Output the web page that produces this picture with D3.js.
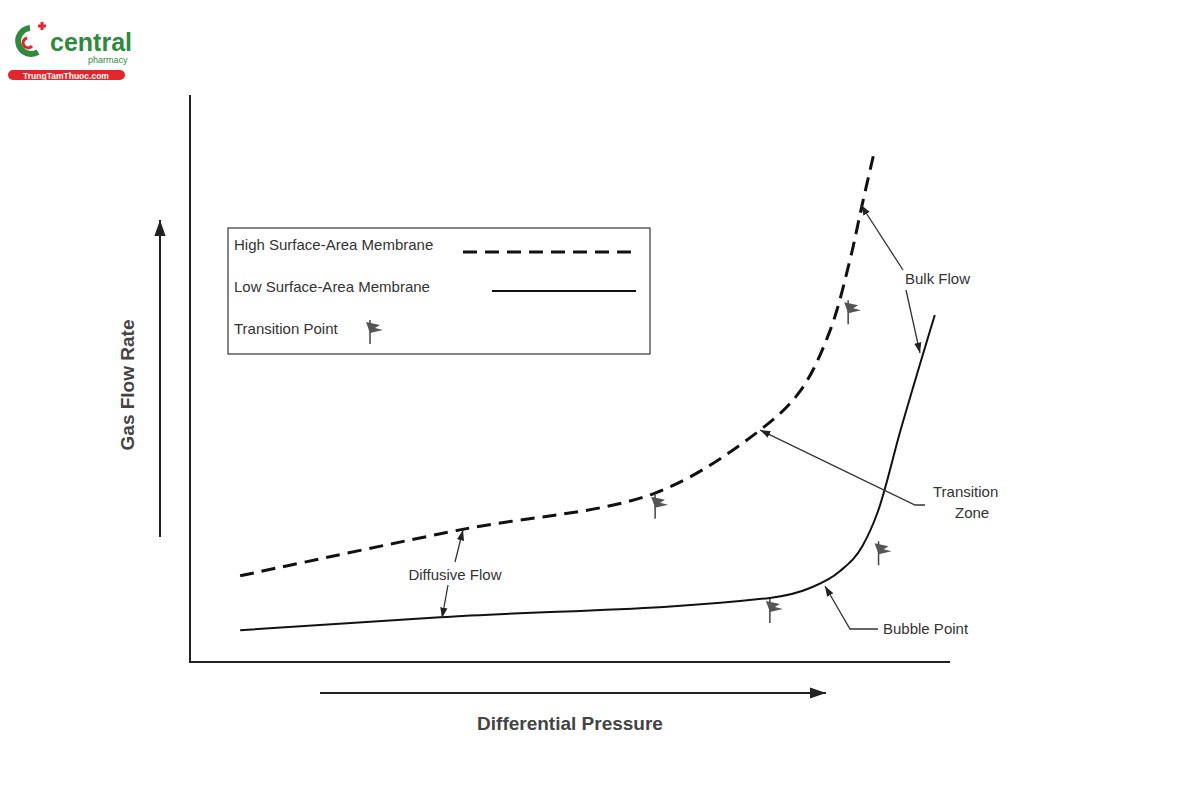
<!DOCTYPE html>
<html><head><meta charset="utf-8">
<script src="https://cdn.jsdelivr.net/npm/d3@7"></script>
<style>body{margin:0;background:#fff}text{font-family:Arial,"Liberation Sans",sans-serif}</style>
</head><body><svg id="chart" width="1200" height="800"></svg>
<script>
// curve points, in chart units (0..100 on both axes)
const highSurface = [[6.6,15.2],[35.5,23.3],[61.2,29.8],[75,40.9],[80.3,47.8],[84.2,58.4],[86.8,70.7],[88.4,80.4],[89.9,89.2]]
const lowSurface = [[6.6,5.6],[32.9,7.9],[76.3,11.3],[81.5,13.0],[85.5,16.0],[88.5,20.5],[90.5,26.5],[93.5,40.9],[98,61.2]]
const transitionPoints = [[61.2,29.5],[86.6,63.8],[76.3,11.1],[90.6,21.3]]
const legendItems = ['High Surface-Area Membrane','Low Surface-Area Membrane','Transition Point']

const svg = d3.select('#chart')
const x = d3.scaleLinear().domain([0,100]).range([190,950])
const y = d3.scaleLinear().domain([0,100]).range([662,95])

const defs = svg.append('defs')
defs.append('marker').attr('id','ah').attr('viewBox','0 0 10 10').attr('refX',10).attr('refY',5)
  .attr('markerWidth',8).attr('markerHeight',8).attr('orient','auto-start-reverse')
  .append('path').attr('d','M0,1.5L10,5L0,8.5Z').attr('fill','#222')

// logo
const logo = svg.append('g')
logo.append('path').attr('d','M30,28 A13,13 0 1 0 38,52').attr('fill','none').attr('stroke','#2e8b3e').attr('stroke-width',6)
logo.append('path').attr('d','M27,38 A5,5 0 1 0 32,46').attr('fill','none').attr('stroke','#e3262d').attr('stroke-width',3)
logo.append('path').attr('d','M38,26h8M42,22v8').attr('stroke','#e3262d').attr('stroke-width',3)
logo.append('text').attr('x',50).attr('y',51).attr('font-size',25).attr('font-weight','bold').attr('fill','#2e8b3e').text('central')
logo.append('text').attr('x',88).attr('y',63).attr('font-size',9).attr('fill','#2e8b3e').text('pharmacy')
logo.append('rect').attr('x',8).attr('y',70).attr('width',117).attr('height',10).attr('rx',5).attr('fill','#e3262d')
logo.append('text').attr('x',66).attr('y',78.5).attr('font-size',8.5).attr('font-weight','bold').attr('fill','#fff').attr('text-anchor','middle').text('TrungTamThuoc.com')

// axes (no ticks)
svg.append('path').attr('d',`M${x(0)},${y(100)}V${y(0)}H${x(100)}`).attr('fill','none').attr('stroke','#222').attr('stroke-width',2)
svg.append('line').attr('x1',160).attr('y1',537).attr('x2',160).attr('y2',220).attr('stroke','#222').attr('stroke-width',2).attr('marker-end','url(#ah)')
svg.append('line').attr('x1',320).attr('y1',693).attr('x2',826).attr('y2',693).attr('stroke','#222').attr('stroke-width',2).attr('marker-end','url(#ah)')
svg.append('text').attr('transform','translate(134,385) rotate(-90)').attr('text-anchor','middle').attr('font-size',19).attr('font-weight','bold').attr('fill','#444').text('Gas Flow Rate')
svg.append('text').attr('x',570).attr('y',730).attr('text-anchor','middle').attr('font-size',19).attr('font-weight','bold').attr('fill','#444').text('Differential Pressure')

const line = d3.line().x(d=>x(d[0])).y(d=>y(d[1])).curve(d3.curveCatmullRom)
svg.append('path').attr('d',line(highSurface)).attr('fill','none').attr('stroke','#111').attr('stroke-width',3).attr('stroke-dasharray','14,8')
svg.append('path').attr('d',line.curve(d3.curveMonotoneX)(lowSurface)).attr('fill','none').attr('stroke','#111').attr('stroke-width',2)

const flag = (g,px,py)=>{
  g.append('line').attr('x1',px).attr('y1',py).attr('x2',px).attr('y2',py+24).attr('stroke','#444').attr('stroke-width',1.5)
  g.append('path').attr('d',`M${px-4},${py+2}L${px+10},${py+5}L${px+5},${py+8}L${px+13},${py+10}L${px},${py+13}Z`).attr('fill','#555')
}
transitionPoints.forEach(d=>flag(svg,x(d[0]),y(d[1])))

// annotations
const ann = (pts,arrow)=>svg.append('path').attr('d','M'+pts.join('L')).attr('fill','none').attr('stroke','#333').attr('stroke-width',1.3).attr('marker-end',arrow?'url(#ah)':null)
ann([[903,270],[861,205]],true); ann([[906,290],[920,353]],true)
svg.append('text').attr('x',905).attr('y',284).attr('font-size',15).attr('fill','#333').text('Bulk Flow')
ann([[925,505],[915,505],[760,430]],true)
svg.append('text').attr('x',933).attr('y',497).attr('font-size',15).attr('fill','#333').text('Transition')
svg.append('text').attr('x',955).attr('y',518).attr('font-size',15).attr('fill','#333').text('Zone')
ann([[455,562],[463,530]],true); ann([[448,585],[442,618]],true)
svg.append('text').attr('x',455).attr('y',580).attr('text-anchor','middle').attr('font-size',15).attr('fill','#333').text('Diffusive Flow')
ann([[878,629],[850,629],[825,586]],true)
svg.append('text').attr('x',883).attr('y',634).attr('font-size',15).attr('fill','#333').text('Bubble Point')

// legend
const lg = svg.append('g')
lg.append('rect').attr('x',228).attr('y',228).attr('width',422).attr('height',126).attr('fill','#fff').attr('stroke','#444').attr('stroke-width',1.3)
lg.selectAll('text').data(legendItems).join('text').attr('x',234).attr('y',(d,i)=>250+i*42).attr('font-size',15).attr('fill','#333').text(d=>d)
lg.append('line').attr('x1',463).attr('x2',636).attr('y1',252).attr('y2',252).attr('stroke','#111').attr('stroke-width',3).attr('stroke-dasharray','14,8')
lg.append('line').attr('x1',492).attr('x2',636).attr('y1',291).attr('y2',291).attr('stroke','#111').attr('stroke-width',2)
flag(lg,370,320)
</script></body></html>
